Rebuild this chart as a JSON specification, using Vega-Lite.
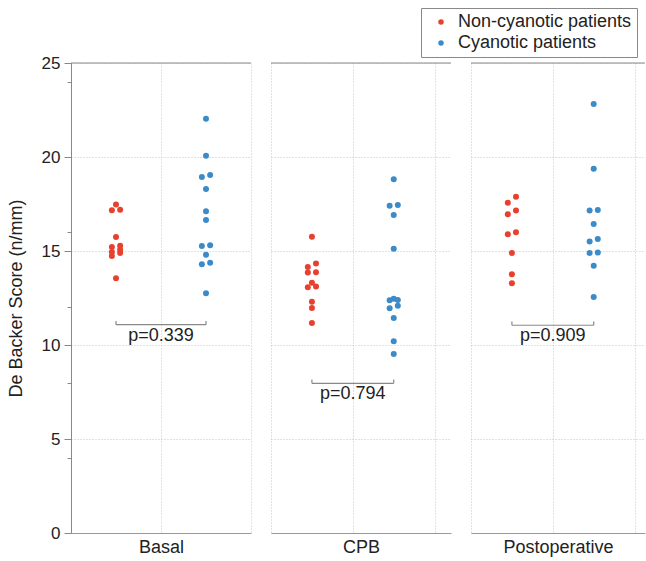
{
  "$schema": "https://vega.github.io/schema/vega-lite/v6.json",
  "padding": {"left": 7, "top": 7, "right": 0, "bottom": 4},
  "spacing": 20,
  "bounds": "flush",
  "config": {
    "font": "Liberation Sans",
    "view": {"stroke": null},
    "axis": {
      "gridColor": "#c4c4c4",
      "gridDash": [1, 2],
      "domainColor": "#888888",
      "tickColor": "#888888",
      "labelColor": "#222222",
      "titleColor": "#222222",
      "titleFontWeight": "normal",
      "labelFontSize": 17,
      "titleFontSize": 18,
      "labelOverlap": false
    }
  },
  "datasets": {
    "points": [
      {"phase": "Basal", "group": "Non-cyanotic patients", "value": 17.48},
      {"phase": "Basal", "group": "Non-cyanotic patients", "value": 17.17},
      {"phase": "Basal", "group": "Non-cyanotic patients", "value": 17.19},
      {"phase": "Basal", "group": "Non-cyanotic patients", "value": 15.74},
      {"phase": "Basal", "group": "Non-cyanotic patients", "value": 15.21},
      {"phase": "Basal", "group": "Non-cyanotic patients", "value": 15.28},
      {"phase": "Basal", "group": "Non-cyanotic patients", "value": 14.89},
      {"phase": "Basal", "group": "Non-cyanotic patients", "value": 14.95},
      {"phase": "Basal", "group": "Non-cyanotic patients", "value": 15.07},
      {"phase": "Basal", "group": "Non-cyanotic patients", "value": 14.73},
      {"phase": "Basal", "group": "Non-cyanotic patients", "value": 13.55},
      {"phase": "Basal", "group": "Cyanotic patients", "value": 22.04},
      {"phase": "Basal", "group": "Cyanotic patients", "value": 20.07},
      {"phase": "Basal", "group": "Cyanotic patients", "value": 18.94},
      {"phase": "Basal", "group": "Cyanotic patients", "value": 19.04},
      {"phase": "Basal", "group": "Cyanotic patients", "value": 18.30},
      {"phase": "Basal", "group": "Cyanotic patients", "value": 17.11},
      {"phase": "Basal", "group": "Cyanotic patients", "value": 16.65},
      {"phase": "Basal", "group": "Cyanotic patients", "value": 15.27},
      {"phase": "Basal", "group": "Cyanotic patients", "value": 15.30},
      {"phase": "Basal", "group": "Cyanotic patients", "value": 14.80},
      {"phase": "Basal", "group": "Cyanotic patients", "value": 14.38},
      {"phase": "Basal", "group": "Cyanotic patients", "value": 14.29},
      {"phase": "Basal", "group": "Cyanotic patients", "value": 12.75},
      {"phase": "CPB", "group": "Non-cyanotic patients", "value": 15.76},
      {"phase": "CPB", "group": "Non-cyanotic patients", "value": 14.33},
      {"phase": "CPB", "group": "Non-cyanotic patients", "value": 14.15},
      {"phase": "CPB", "group": "Non-cyanotic patients", "value": 13.85},
      {"phase": "CPB", "group": "Non-cyanotic patients", "value": 13.87},
      {"phase": "CPB", "group": "Non-cyanotic patients", "value": 13.31},
      {"phase": "CPB", "group": "Non-cyanotic patients", "value": 13.07},
      {"phase": "CPB", "group": "Non-cyanotic patients", "value": 13.11},
      {"phase": "CPB", "group": "Non-cyanotic patients", "value": 12.30},
      {"phase": "CPB", "group": "Non-cyanotic patients", "value": 11.97},
      {"phase": "CPB", "group": "Non-cyanotic patients", "value": 11.17},
      {"phase": "CPB", "group": "Cyanotic patients", "value": 18.81},
      {"phase": "CPB", "group": "Cyanotic patients", "value": 17.41},
      {"phase": "CPB", "group": "Cyanotic patients", "value": 17.45},
      {"phase": "CPB", "group": "Cyanotic patients", "value": 16.91},
      {"phase": "CPB", "group": "Cyanotic patients", "value": 15.12},
      {"phase": "CPB", "group": "Cyanotic patients", "value": 12.38},
      {"phase": "CPB", "group": "Cyanotic patients", "value": 12.39},
      {"phase": "CPB", "group": "Cyanotic patients", "value": 12.46},
      {"phase": "CPB", "group": "Cyanotic patients", "value": 11.95},
      {"phase": "CPB", "group": "Cyanotic patients", "value": 12.09},
      {"phase": "CPB", "group": "Cyanotic patients", "value": 11.44},
      {"phase": "CPB", "group": "Cyanotic patients", "value": 10.20},
      {"phase": "CPB", "group": "Cyanotic patients", "value": 9.52},
      {"phase": "Postoperative", "group": "Non-cyanotic patients", "value": 17.89},
      {"phase": "Postoperative", "group": "Non-cyanotic patients", "value": 17.57},
      {"phase": "Postoperative", "group": "Non-cyanotic patients", "value": 16.95},
      {"phase": "Postoperative", "group": "Non-cyanotic patients", "value": 17.16},
      {"phase": "Postoperative", "group": "Non-cyanotic patients", "value": 15.89},
      {"phase": "Postoperative", "group": "Non-cyanotic patients", "value": 16.00},
      {"phase": "Postoperative", "group": "Non-cyanotic patients", "value": 14.89},
      {"phase": "Postoperative", "group": "Non-cyanotic patients", "value": 13.76},
      {"phase": "Postoperative", "group": "Non-cyanotic patients", "value": 13.28},
      {"phase": "Postoperative", "group": "Cyanotic patients", "value": 22.82},
      {"phase": "Postoperative", "group": "Cyanotic patients", "value": 19.38},
      {"phase": "Postoperative", "group": "Cyanotic patients", "value": 17.16},
      {"phase": "Postoperative", "group": "Cyanotic patients", "value": 17.18},
      {"phase": "Postoperative", "group": "Cyanotic patients", "value": 16.44},
      {"phase": "Postoperative", "group": "Cyanotic patients", "value": 15.64},
      {"phase": "Postoperative", "group": "Cyanotic patients", "value": 15.51},
      {"phase": "Postoperative", "group": "Cyanotic patients", "value": 14.90},
      {"phase": "Postoperative", "group": "Cyanotic patients", "value": 14.92},
      {"phase": "Postoperative", "group": "Cyanotic patients", "value": 14.22},
      {"phase": "Postoperative", "group": "Cyanotic patients", "value": 12.55}
    ],
    "brackets": [
      {"phase": "Basal", "level": 11.08, "label": "p=0.339"},
      {"phase": "CPB", "level": 7.96, "label": "p=0.794"},
      {"phase": "Postoperative", "level": 11.05, "label": "p=0.909"}
    ]
  },
  "hconcat": [
    {
      "width": 180,
      "height": 470,
      "resolve": {"axis": {"y": "independent"}},
      "layer": [
        {
          "data": {"name": "points"},
          "transform": [
            {"filter": "datum.phase === 'Basal'"},
            {"window": [{"op": "lag", "field": "value", "param": 1, "as": "prev"}], "sort": [{"field": "value", "order": "ascending"}], "groupby": ["group"]},
            {"calculate": "(datum.prev == null || datum.value - datum.prev > 0.33) ? 1 : 0", "as": "newrun"},
            {"window": [{"op": "sum", "field": "newrun", "as": "run"}], "sort": [{"field": "value", "order": "ascending"}], "groupby": ["group"], "frame": [null, 0]},
            {"window": [{"op": "row_number", "as": "k"}], "sort": [{"field": "value", "order": "ascending"}], "groupby": ["group", "run"]},
            {"joinaggregate": [{"op": "count", "as": "n"}], "groupby": ["group", "run"]},
            {"calculate": "(datum.n === 1 || (datum.n % 2 === 1 && datum.k === datum.n)) ? 0 : (datum.k % 2 === 1 ? -1 : 1)", "as": "side"},
            {"calculate": "(datum.group === 'Cyanotic patients' ? 1.5 : 0.5) + datum.side * 0.046", "as": "xpos"}
          ],
          "mark": {"type": "point", "filled": true, "size": 36, "opacity": 1},
          "encoding": {
            "x": {"field": "xpos", "type": "quantitative", "scale": {"domain": [0, 2], "nice": false, "zero": false},
              "axis": {"values": [0, 1, 2], "labels": false, "ticks": false, "grid": true, "title": "Basal", "titlePadding": 5, "domainColor": "#999999"}},
            "y": {"field": "value", "type": "quantitative", "scale": {"domain": [0, 25], "nice": false},
              "axis": {
                "orient": "left",
                "title": "De Backer Score (n/mm)",
                "values": [0, 5, 10, 15, 20, 25],
                "tickSize": 7,
                "grid": true,
                "labelPadding": 4,
                "titlePadding": 16
              }},
            "color": {"field": "group", "type": "nominal",
              "scale": {"domain": ["Non-cyanotic patients", "Cyanotic patients"], "range": ["#E8402F", "#3B8BC9"]},
              "legend": {"orient": "none", "legendX": 350, "legendY": -55, "title": null, "symbolType": "circle", "symbolSize": 30, "labelFontSize": 18, "labelColor": "#222222", "padding": 5, "symbolOffset": 6, "labelOffset": 8, "rowPadding": 3, "strokeColor": "#888888", "labelLimit": 300}}
          }
        },
        {
          "data": {"name": "brackets"},
          "transform": [{"filter": "datum.phase === 'Basal'"}, {"calculate": "datum.level + 0.2", "as": "tip"}],
          "layer": [
            {"mark": {"type": "rule", "color": "#888888"}, "encoding": {"y": {"datum": 25, "type": "quantitative",
              "axis": {"orient": "left", "values": [0,1,2,3,4,5,6,7,8,9,10,11,12,13,14,15,16,17,18,19,20,21,22,23,24,25], "tickSize": 4, "labels": false, "domain": false, "grid": false, "title": null}}}},
            {"mark": {"type": "rule", "color": "#888888", "strokeWidth": 1.2}, "encoding": {"x": {"datum": 0.5, "type": "quantitative"}, "x2": {"datum": 1.5}, "y": {"field": "level", "type": "quantitative"}}},
            {"mark": {"type": "rule", "color": "#888888", "strokeWidth": 1.2}, "encoding": {"x": {"datum": 0.5, "type": "quantitative"}, "y": {"field": "level", "type": "quantitative"}, "y2": {"field": "tip"}}},
            {"mark": {"type": "rule", "color": "#888888", "strokeWidth": 1.2}, "encoding": {"x": {"datum": 1.5, "type": "quantitative"}, "y": {"field": "level", "type": "quantitative"}, "y2": {"field": "tip"}}},
            {"mark": {"type": "text", "baseline": "top", "dy": 2, "fontSize": 18, "color": "#222222"}, "encoding": {"x": {"datum": 1, "type": "quantitative"}, "y": {"field": "level", "type": "quantitative"}, "text": {"field": "label"}}}
          ]
        }
      ]
    },
    {
      "width": 180,
      "height": 470,
      "layer": [
        {
          "data": {"name": "points"},
          "transform": [
            {"filter": "datum.phase === 'CPB'"},
            {"window": [{"op": "lag", "field": "value", "param": 1, "as": "prev"}], "sort": [{"field": "value", "order": "ascending"}], "groupby": ["group"]},
            {"calculate": "(datum.prev == null || datum.value - datum.prev > 0.33) ? 1 : 0", "as": "newrun"},
            {"window": [{"op": "sum", "field": "newrun", "as": "run"}], "sort": [{"field": "value", "order": "ascending"}], "groupby": ["group"], "frame": [null, 0]},
            {"window": [{"op": "row_number", "as": "k"}], "sort": [{"field": "value", "order": "ascending"}], "groupby": ["group", "run"]},
            {"joinaggregate": [{"op": "count", "as": "n"}], "groupby": ["group", "run"]},
            {"calculate": "(datum.n === 1 || (datum.n % 2 === 1 && datum.k === datum.n)) ? 0 : (datum.k % 2 === 1 ? -1 : 1)", "as": "side"},
            {"calculate": "(datum.group === 'Cyanotic patients' ? 1.5 : 0.5) + datum.side * 0.05", "as": "xpos"}
          ],
          "mark": {"type": "point", "filled": true, "size": 36, "opacity": 1},
          "encoding": {
            "x": {"field": "xpos", "type": "quantitative", "scale": {"domain": [0, 2.2], "nice": false, "zero": false},
              "axis": {"values": [0, 1, 2], "labels": false, "ticks": false, "grid": true, "title": "CPB", "titlePadding": 5, "domainColor": "#999999"}},
            "y": {"field": "value", "type": "quantitative", "scale": {"domain": [0, 25], "nice": false},
              "axis": {"values": [0, 5, 10, 15, 20, 25], "labels": false, "ticks": false, "domain": false, "grid": true, "title": null}},
            "color": {"field": "group", "type": "nominal",
              "scale": {"domain": ["Non-cyanotic patients", "Cyanotic patients"], "range": ["#E8402F", "#3B8BC9"]},
              "legend": {"orient": "none", "legendX": 350, "legendY": -55, "title": null, "symbolType": "circle", "symbolSize": 30, "labelFontSize": 18, "labelColor": "#222222", "padding": 5, "symbolOffset": 6, "labelOffset": 8, "rowPadding": 3, "strokeColor": "#888888", "labelLimit": 300}}
          }
        },
        {
          "data": {"name": "brackets"},
          "transform": [{"filter": "datum.phase === 'CPB'"}, {"calculate": "datum.level + 0.2", "as": "tip"}],
          "layer": [
            {"mark": {"type": "rule", "color": "#888888"}, "encoding": {"y": {"datum": 25, "type": "quantitative"}}},
            {"mark": {"type": "rule", "color": "#888888", "strokeWidth": 1.2}, "encoding": {"x": {"datum": 0.5, "type": "quantitative"}, "x2": {"datum": 1.5}, "y": {"field": "level", "type": "quantitative"}}},
            {"mark": {"type": "rule", "color": "#888888", "strokeWidth": 1.2}, "encoding": {"x": {"datum": 0.5, "type": "quantitative"}, "y": {"field": "level", "type": "quantitative"}, "y2": {"field": "tip"}}},
            {"mark": {"type": "rule", "color": "#888888", "strokeWidth": 1.2}, "encoding": {"x": {"datum": 1.5, "type": "quantitative"}, "y": {"field": "level", "type": "quantitative"}, "y2": {"field": "tip"}}},
            {"mark": {"type": "text", "baseline": "top", "dy": 2, "fontSize": 18, "color": "#222222"}, "encoding": {"x": {"datum": 1, "type": "quantitative"}, "y": {"field": "level", "type": "quantitative"}, "text": {"field": "label"}}}
          ]
        }
      ]
    },
    {
      "width": 174,
      "height": 470,
      "layer": [
        {
          "data": {"name": "points"},
          "transform": [
            {"filter": "datum.phase === 'Postoperative'"},
            {"window": [{"op": "lag", "field": "value", "param": 1, "as": "prev"}], "sort": [{"field": "value", "order": "ascending"}], "groupby": ["group"]},
            {"calculate": "(datum.prev == null || datum.value - datum.prev > 0.33) ? 1 : 0", "as": "newrun"},
            {"window": [{"op": "sum", "field": "newrun", "as": "run"}], "sort": [{"field": "value", "order": "ascending"}], "groupby": ["group"], "frame": [null, 0]},
            {"window": [{"op": "row_number", "as": "k"}], "sort": [{"field": "value", "order": "ascending"}], "groupby": ["group", "run"]},
            {"joinaggregate": [{"op": "count", "as": "n"}], "groupby": ["group", "run"]},
            {"calculate": "(datum.n === 1 || (datum.n % 2 === 1 && datum.k === datum.n)) ? 0 : (datum.k % 2 === 1 ? -1 : 1)", "as": "side"},
            {"calculate": "(datum.group === 'Cyanotic patients' ? 1.5 : 0.5) + datum.side * 0.05", "as": "xpos"}
          ],
          "mark": {"type": "point", "filled": true, "size": 36, "opacity": 1},
          "encoding": {
            "x": {"field": "xpos", "type": "quantitative", "scale": {"domain": [0, 2.127], "nice": false, "zero": false},
              "axis": {"values": [0, 1, 2], "labels": false, "ticks": false, "grid": true, "title": "Postoperative", "titlePadding": 5, "domainColor": "#999999"}},
            "y": {"field": "value", "type": "quantitative", "scale": {"domain": [0, 25], "nice": false},
              "axis": {"values": [0, 5, 10, 15, 20, 25], "labels": false, "ticks": false, "domain": false, "grid": true, "title": null}},
            "color": {"field": "group", "type": "nominal",
              "scale": {"domain": ["Non-cyanotic patients", "Cyanotic patients"], "range": ["#E8402F", "#3B8BC9"]},
              "legend": {"orient": "none", "legendX": 350, "legendY": -55, "title": null, "symbolType": "circle", "symbolSize": 30, "labelFontSize": 18, "labelColor": "#222222", "padding": 5, "symbolOffset": 6, "labelOffset": 8, "rowPadding": 3, "strokeColor": "#888888", "labelLimit": 300}}
          }
        },
        {
          "data": {"name": "brackets"},
          "transform": [{"filter": "datum.phase === 'Postoperative'"}, {"calculate": "datum.level + 0.2", "as": "tip"}],
          "layer": [
            {"mark": {"type": "rule", "color": "#888888"}, "encoding": {"y": {"datum": 25, "type": "quantitative"}}},
            {"mark": {"type": "rule", "color": "#888888", "strokeWidth": 1.2}, "encoding": {"x": {"datum": 0.5, "type": "quantitative"}, "x2": {"datum": 1.5}, "y": {"field": "level", "type": "quantitative"}}},
            {"mark": {"type": "rule", "color": "#888888", "strokeWidth": 1.2}, "encoding": {"x": {"datum": 0.5, "type": "quantitative"}, "y": {"field": "level", "type": "quantitative"}, "y2": {"field": "tip"}}},
            {"mark": {"type": "rule", "color": "#888888", "strokeWidth": 1.2}, "encoding": {"x": {"datum": 1.5, "type": "quantitative"}, "y": {"field": "level", "type": "quantitative"}, "y2": {"field": "tip"}}},
            {"mark": {"type": "text", "baseline": "top", "dy": 2, "fontSize": 18, "color": "#222222"}, "encoding": {"x": {"datum": 1, "type": "quantitative"}, "y": {"field": "level", "type": "quantitative"}, "text": {"field": "label"}}}
          ]
        }
      ]
    }
  ]
}
